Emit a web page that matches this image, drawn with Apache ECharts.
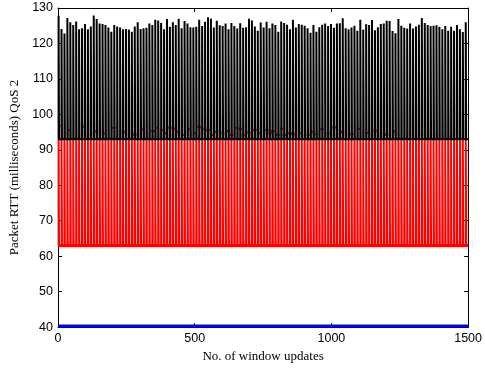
<!DOCTYPE html>
<html>
<head>
<meta charset="utf-8">
<script src="https://cdn.jsdelivr.net/npm/echarts@6/dist/echarts.min.js"></script>
<style>
  html, body { margin: 0; padding: 0; background: #fff; }
  #chart { width: 485px; height: 368px; }
</style>
</head>
<body>
<div id="chart"></div>
<script>
// Datos (aprox.)
const xMax = 1500;
const xTicks = [0, 500, 1000, 1500];
const yTicks = [40, 50, 60, 70, 80, 90, 100, 110, 120, 130];

// picos de la señal negra (QoS 2), de izquierda a derecha
const blackPeaks = [
  127.8, 124.1, 122.8, 127.2, 126.0, 125.2, 126.2, 124.0, 124.3, 125.5,
  124.0, 124.8, 127.9, 126.9, 125.6, 125.5, 125.2, 124.5, 123.3, 125.2,
  124.8, 124.5, 124.0, 124.1, 123.9, 123.3, 124.8, 126.0, 124.1, 124.3,
  124.4, 125.6, 125.2, 126.7, 126.5, 125.8, 124.0, 126.9, 124.7, 126.0,
  125.2, 127.0, 124.3, 126.3, 125.6, 124.6, 124.5, 124.7, 126.7, 124.9,
  126.1, 127.4, 127.0, 124.5, 126.4, 125.1, 124.9, 125.6, 124.0, 125.8,
  124.9, 124.2, 125.7, 124.4, 124.6, 127.0, 126.5, 124.8, 123.6, 125.9,
  124.5, 126.1, 124.3, 125.6, 125.2, 123.3, 126.2, 125.8, 125.3, 124.0,
  126.7, 124.5, 125.5, 125.3, 125.0, 124.3, 123.0, 125.2, 123.3, 124.6,
  125.3, 125.6, 124.9, 125.5, 124.4, 125.6, 125.7, 127.1, 124.3, 124.0,
  124.5, 125.0, 123.6, 126.7, 123.9, 125.4, 125.2, 126.6, 123.7, 124.6,
  125.5, 125.6, 126.4, 126.3, 123.5, 122.9, 126.9, 125.0, 124.4, 124.2,
  125.6, 124.2, 124.8, 125.3, 127.2, 125.8, 125.2, 124.9, 125.0, 125.1,
  124.7, 124.0, 124.9, 123.6, 124.7, 123.6, 125.2, 124.0, 123.2, 126.0
];
const blackFloor = 93;

// señal roja
const redTop = 93;
const redFloor = 63;
// puntos rojos que sobresalen por encima de 93
const redSpikes = [
  [10, 96.8], [40, 95.6], [95, 96.5], [140, 95.2], [170, 94.6], [205, 96.2],
  [240, 95.0], [280, 94.3], [310, 95.8], [348, 95.3], [362, 96.2], [382, 95.6],
  [394, 94.7], [409, 96.2], [427, 96.0], [439, 95.1], [457, 94.2], [479, 95.8],
  [500, 94.7], [516, 96.5], [530, 96.0], [549, 95.6], [567, 94.2], [579, 95.1],
  [601, 94.7], [622, 95.3], [634, 94.2], [654, 96.2], [667, 95.8], [679, 94.2],
  [698, 94.9], [720, 95.6], [735, 94.7], [764, 95.6], [776, 94.7], [786, 95.3],
  [804, 94.2], [820, 96.0], [829, 94.2], [847, 94.7], [859, 94.4], [886, 94.7],
  [917, 94.2], [932, 95.1], [944, 94.4], [965, 95.8], [990, 94.6], [1010, 96.3],
  [1040, 95.0], [1075, 94.4], [1100, 95.9], [1130, 94.8], [1160, 95.4],
  [1195, 94.3], [1230, 95.2]
];

// línea azul casi en el borde inferior
const blueX = [0, 1500];
const blueRtt = [40.3, 40.3];

// Construye una onda cuadrada (subida, meseta corta, bajada) por cada pico
function wave(peaks, low, duty) {
  const step = xMax / peaks.length;
  const pts = [];
  peaks.forEach((p, i) => {
    const x0 = i * step + step * 0.2;
    const x1 = x0 + step * duty;
    pts.push([x0, low], [x0, p], [x1, p], [x1, low]);
  });
  pts.push([xMax, low]);
  return pts;
}

const chart = echarts.init(document.getElementById('chart'), null, { renderer: 'canvas' });

const labelFont = { color: '#000', fontSize: 12.5, fontFamily: 'Liberation Sans, Arial, sans-serif' };
const nameFont = { color: '#000', fontSize: 13, fontFamily: 'Liberation Serif, Times New Roman, serif' };
const lineStyle = { color: '#000', width: 1 };

const options = {
  backgroundColor: '#fff',
  animation: false,
  grid: { left: 58, right: 16, top: 8, bottom: 37, containLabel: false },
  xAxis: [
    {
      type: 'value', min: 0, max: xMax, interval: 500, position: 'bottom',
      name: 'No. of window updates', nameLocation: 'middle', nameGap: 19,
      nameTextStyle: nameFont,
      axisLine: { show: true, onZero: false, lineStyle },
      axisTick: { show: true, inside: true, length: 4, lineStyle },
      axisLabel: Object.assign({ margin: 5, formatter: v => xTicks.includes(v) ? String(v) : '' }, labelFont),
      splitLine: { show: false }
    },
    {
      type: 'value', min: 0, max: xMax, interval: 500, position: 'top',
      axisLine: { show: true, onZero: false, lineStyle },
      axisTick: { show: true, inside: true, length: 4, lineStyle },
      axisLabel: { show: false },
      splitLine: { show: false }
    }
  ],
  yAxis: [
    {
      type: 'value', min: 40, max: 130, interval: 10, position: 'left',
      name: 'Packet RTT (milliseconds) QoS 2', nameLocation: 'middle', nameGap: 37,
      nameTextStyle: nameFont,
      axisLine: { show: true, onZero: false, lineStyle },
      axisTick: { show: true, inside: true, length: 4, lineStyle },
      axisLabel: Object.assign({ margin: 5, formatter: v => yTicks.includes(v) ? String(v) : '' }, labelFont),
      splitLine: { show: false }
    },
    {
      type: 'value', min: 40, max: 130, interval: 10, position: 'right',
      axisLine: { show: true, onZero: false, lineStyle },
      axisTick: { show: true, inside: true, length: 4, lineStyle },
      axisLabel: { show: false },
      splitLine: { show: false }
    }
  ],
  series: [
    {
      name: 'azul', type: 'line', showSymbol: false, silent: true,
      data: blueX.map((x, i) => [x, blueRtt[i]]),
      lineStyle: { color: '#0000ff', width: 3 }
    },
    {
      name: 'rojo', type: 'line', showSymbol: false, silent: true,
      data: wave(blackPeaks.map(() => redTop), redFloor, 0.15),
      lineStyle: { color: '#ff0000', width: 2 }
    },
    {
      name: 'rojo base', type: 'line', showSymbol: false, silent: true,
      data: [[0, redFloor], [xMax, redFloor]],
      lineStyle: { color: '#ff0000', width: 3 }
    },
    {
      name: 'negro', type: 'line', showSymbol: false, silent: true,
      data: wave(blackPeaks, blackFloor, 0.15),
      lineStyle: { color: '#000', width: 2 }
    },
    {
      name: 'rojo picos', type: 'scatter', silent: true,
      data: redSpikes,
      symbol: 'rect', symbolSize: [4, 2],
      itemStyle: { color: '#d00000' }
    }
  ]
};

chart.setOption(options);
</script>
</body>
</html>
